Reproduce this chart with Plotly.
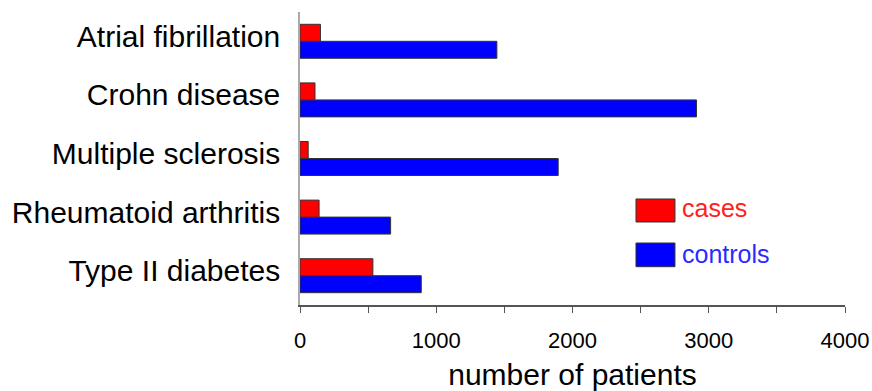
import plotly.graph_objects as go

diseases = ["Atrial fibrillation", "Crohn disease", "Multiple sclerosis",
            "Rheumatoid arthritis", "Type II diabetes"]
cases = [150, 110, 60, 140, 535]
controls = [1445, 2910, 1895, 665, 890]
x_tickvals = [0, 500, 1000, 1500, 2000, 2500, 3000, 3500, 4000]
x_ticktext = ["0", "", "1000", "", "2000", "", "3000", "", "4000"]

FONT = "Arial, Liberation Sans, sans-serif"
RED = "#ff0000"
BLUE = "#0000ff"
EDGE = "#333333"

fig = go.Figure()
fig.add_trace(go.Bar(y=diseases, x=controls, orientation="h", name="controls",
                     marker=dict(color=BLUE, line=dict(color=EDGE, width=1))))
fig.add_trace(go.Bar(y=diseases, x=cases, orientation="h", name="cases",
                     marker=dict(color=RED, line=dict(color=EDGE, width=1))))

# custom legend
leg = [("cases", RED, "#ff2020", 0.3618, 0.2833, 0.331),
       ("controls", BLUE, "#2a2aff", 0.2116, 0.1307, 0.174)]
for name, fill, tcol, y0, y1, yt in leg:
    fig.add_shape(type="rect", xref="paper", yref="paper", x0=0.6165, x1=0.688,
                  y0=y1, y1=y0, fillcolor=fill, line=dict(color=EDGE, width=1))
    fig.add_annotation(xref="paper", yref="paper", x=0.697, y=yt, text=name,
                       showarrow=False, xanchor="left", yanchor="middle",
                       font=dict(family=FONT, size=25, color=tcol))

fig.update_layout(
    width=872, height=391,
    margin=dict(l=300, r=27, t=12, b=86),
    paper_bgcolor="white", plot_bgcolor="white",
    barmode="group", bargap=0.42, bargroupgap=0,
    showlegend=False,
    font=dict(family=FONT, color="black"),
)
fig.update_xaxes(range=[0, 4000], tickvals=x_tickvals, ticktext=x_ticktext,
                 ticks="outside", ticklen=6, tickcolor="#555555",
                 showline=True, linecolor="#555555", linewidth=1.5,
                 showgrid=False, zeroline=False, automargin=False,
                 tickfont=dict(size=22, color="black"), ticklabelstandoff=9,
                 title=dict(text="number of patients", font=dict(size=30, color="black"),
                            standoff=12))
fig.update_yaxes(categoryorder="array", categoryarray=diseases[::-1],
                 range=[-0.5, 4.5], ticks="", showline=True, linecolor="#aaaaaa",
                 linewidth=1.5, showgrid=False, zeroline=False, automargin=False,
                 tickfont=dict(size=30, color="black"), ticklabelstandoff=12,
                 ticklabelshift=-5)

fig.write_html("out.html", config={"displayModeBar": False},
               post_script="document.body.style.margin='0';"
                           "document.documentElement.style.overflow='hidden';")
